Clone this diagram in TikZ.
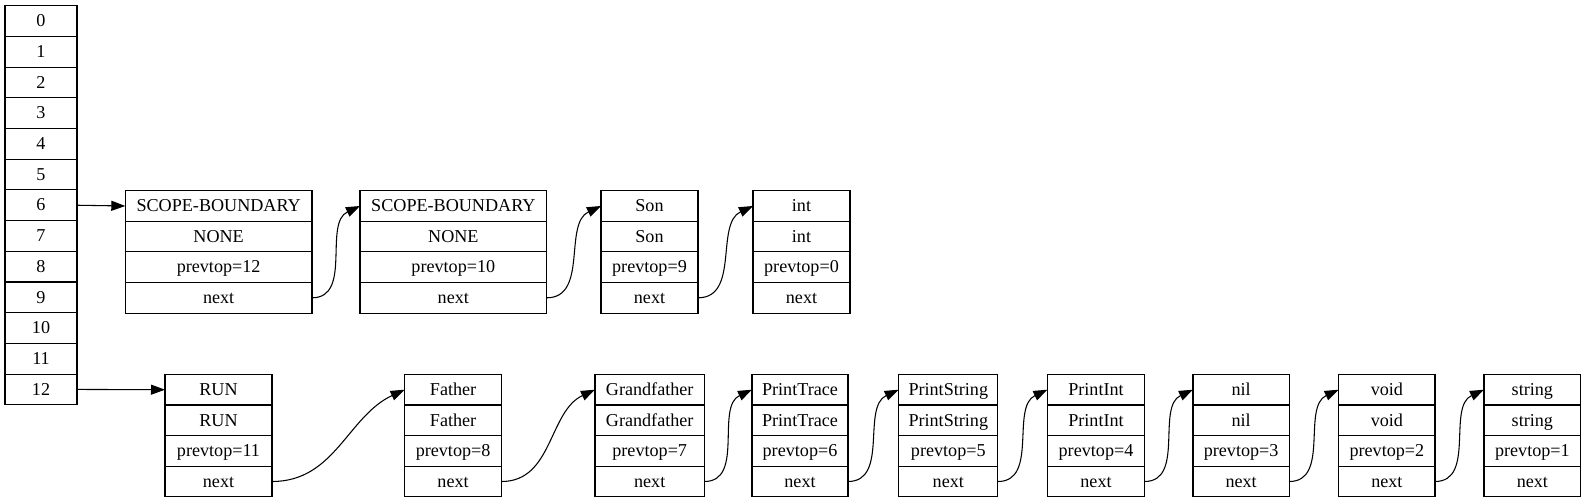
\documentclass[tikz,border=0pt]{standalone}
\usepackage{fontspec}
\setmainfont{Liberation Serif}
\usetikzlibrary{arrows.meta, positioning}

\begin{document}
\begin{tikzpicture}[
    x=0.75pt, y=-0.75pt,
    slot/.style={rectangle, draw, line width=0.8pt, minimum width=54pt, minimum height=23pt, inner sep=0pt, outer sep=0pt, text height=9.3pt, text depth=0.7pt, font=\rmfamily\fontsize{13.6}{16}\selectfont},
    cell/.style={slot, minimum height=22.95pt},
    link/.style={-{Triangle[length=10.5pt, width=7.5pt]}, line width=0.8pt},
]
    \useasboundingbox (0,0) rectangle (1587,503);

    \foreach \i in {0,...,12}
        \node[slot, anchor=north west] (s\i) at (5, {5.7+30.7*\i}) {\i};

    \foreach \name/\key/\kind/\prev/\x/\y/\w in {
        sb1/SCOPE-BOUNDARY/NONE/12/125.3/190.7/186.7,
        sb2/SCOPE-BOUNDARY/NONE/10/360/190.7/186.7,
        son/Son/Son/9/601/190.7/97,
        int/int/int/0/753/190.7/97,
        run/RUN/RUN/11/165/374.4/107,
        father/Father/Father/8/404.6/374.4/97,
        grandfather/Grandfather/Grandfather/7/595/374.4/109.4,
        printtrace/PrintTrace/PrintTrace/6/752/374.4/96,
        printstring/PrintString/PrintString/5/898.7/374.4/99.2,
        printint/PrintInt/PrintInt/4/1047.5/374.4/97,
        nil/nil/nil/3/1193/374.4/96.3,
        void/void/void/2/1338.7/374.4/96.3,
        string/string/string/1/1484/374.4/96.7}{
        \node[cell, minimum width=\w*0.75pt, anchor=north west] (\name-1) at (\x,\y) {\key};
        \node[cell, minimum width=\w*0.75pt, below=0pt of \name-1] (\name-2) {\kind};
        \node[cell, minimum width=\w*0.75pt, below=0pt of \name-2] (\name-3) {prevtop=\prev};
        \node[cell, minimum width=\w*0.75pt, below=0pt of \name-3] (\name-4) {next};
    }

    \draw[link] (s6.east) -- (sb1-1.west);
    \draw[link] (s12.east) -- (run-1.west);

    \foreach \a/\b in {sb1/sb2, sb2/son, son/int, run/father, father/grandfather, grandfather/printtrace, printtrace/printstring, printstring/printint, printint/nil, nil/void, void/string}
        \draw[link] (\a-4.east) to[out=0, in=205] (\b-1.west);
\end{tikzpicture}
\end{document}
